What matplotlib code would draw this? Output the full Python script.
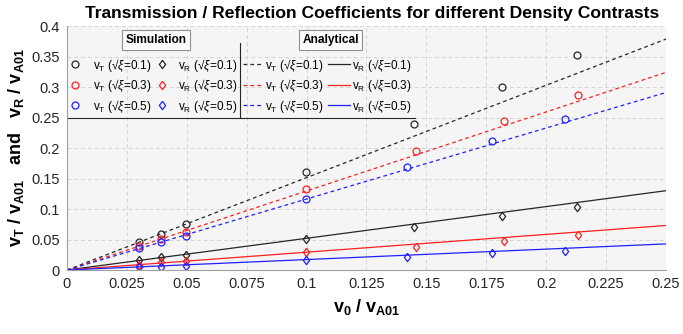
import numpy as np
import matplotlib
matplotlib.use('Agg')
import matplotlib.pyplot as plt
from matplotlib.lines import Line2D
from matplotlib.legend import Legend
from matplotlib.ticker import FuncFormatter, MultipleLocator

plt.rcParams['font.family'] = ['Liberation Sans', 'DejaVu Sans']
plt.rcParams['mathtext.fontset'] = 'custom'
plt.rcParams['mathtext.rm'] = 'Liberation Sans'
plt.rcParams['mathtext.it'] = 'Liberation Sans:italic'
plt.rcParams['mathtext.bf'] = 'Liberation Sans:bold'

# ---- data ----
xi_labels = ['0.1', '0.3', '0.5']
colors = ['#262626', '#ff2020', '#2020ff']

# simulation: v0/vA01 and measured vT, vR
x_sim = [
    [0.030, 0.0394, 0.0495, 0.0998, 0.145, 0.1815, 0.2130],
    [0.030, 0.0394, 0.0495, 0.0998, 0.1455, 0.1825, 0.2134],
    [0.030, 0.0394, 0.0495, 0.0998, 0.1421, 0.1773, 0.2080],
]
vT_sim = [
    [0.0456, 0.059, 0.075, 0.161, 0.2387, 0.2996, 0.3530],
    [0.0390, 0.051, 0.063, 0.133, 0.1948, 0.2440, 0.2864],
    [0.0360, 0.0456, 0.0565, 0.117, 0.1695, 0.2123, 0.2480],
]
vR_sim = [
    [0.016, 0.021, 0.0247, 0.0505, 0.0713, 0.0878, 0.1030],
    [0.0077, 0.0126, 0.0148, 0.029, 0.0384, 0.0477, 0.0570],
    [0.0044, 0.0055, 0.0066, 0.0165, 0.0219, 0.0274, 0.0318],
]

# analytical: straight lines through origin
x_ana = [0.0, 0.25]
vT_ana = [[0.0, 0.3786], [0.0, 0.3240], [0.0, 0.2910]]
vR_ana = [[0.0, 0.1300], [0.0, 0.0730], [0.0, 0.0428]]

diamond = [(0, 1), (0.75, 0), (0, -1), (-0.75, 0), (0, 1)]

fig = plt.figure(figsize=(6.83, 3.34), dpi=100)
ax = fig.add_axes([0.098, 0.1916, 0.877, 0.7304])
ax.set_facecolor('#f5f5f5')

h_circ, h_diam, h_dash, h_solid = [], [], [], []
for i in range(3):
    c = colors[i]
    l1, = ax.plot(x_ana, vT_ana[i], '--', color=c, lw=0.9, dashes=(3, 2.5))
    l2, = ax.plot(x_ana, vR_ana[i], '-', color=c, lw=0.9)
    m1, = ax.plot(x_sim[i], vT_sim[i], 'o', mfc='none', mec=c, ms=5, mew=0.9, ls='none')
    m2, = ax.plot(x_sim[i], vR_sim[i], marker=diamond, mfc='none', mec=c, ms=6, mew=0.9, ls='none')
    h_circ.append(m1); h_diam.append(m2); h_dash.append(l1); h_solid.append(l2)

ax.set_xlim(0, 0.25)
ax.set_ylim(0, 0.4)
ax.xaxis.set_major_locator(MultipleLocator(0.025))
ax.yaxis.set_major_locator(MultipleLocator(0.05))
fmt = FuncFormatter(lambda v, p: '%g' % round(v, 4))
ax.xaxis.set_major_formatter(fmt)
ax.yaxis.set_major_formatter(fmt)
ax.grid(True, ls=(0, (4, 3)), color='#d4d4d4', lw=0.7)
ax.set_axisbelow(True)
for s in ['top', 'right']:
    ax.spines[s].set_visible(False)
for s in ['left', 'bottom']:
    ax.spines[s].set_color('#a0a0a0')
ax.tick_params(labelsize=10.5, colors='#262626', length=0, pad=5)

lab = lambda comp, xi: r'v$_{\mathrm{%s}}$ (√$\xi$=%s)' % (comp, xi)
vT_labels = [lab('T', x) for x in xi_labels]
vR_labels = [lab('R', x) for x in xi_labels]

# one legend per column: (handles, labels, x anchor, handlelength, textpad)
columns = [
    (h_circ, vT_labels, 0.0033, 1.0, 1.03),
    (h_diam, vR_labels, 0.1486, 1.0, 0.86),
    (h_dash, vT_labels, 0.2938, 1.6, 0.25),
    (h_solid, vR_labels, 0.4357, 1.86, 0.17),
]
for hs, ls_, xa, hl, tp in columns:
    leg = Legend(ax, hs, ls_, loc='upper left', bbox_to_anchor=(xa, 0.875),
                 frameon=False, fontsize=8.5, borderpad=0, borderaxespad=0,
                 handlelength=hl, handletextpad=tp, labelspacing=0.3)
    ax.add_artist(leg)

# legend frame pieces and headers
ax.add_line(Line2D([0, 0.581], [0.623, 0.623], transform=ax.transAxes,
                   color='#262626', lw=0.8, clip_on=False))
ax.add_line(Line2D([0.289, 0.289], [0.623, 0.93], transform=ax.transAxes,
                   color='#262626', lw=0.8, clip_on=False))
box = dict(boxstyle='square,pad=0.3', fc='#fafafa', ec='#909090', lw=0.8)
ax.text(0.149, 0.943, 'Simulation', transform=ax.transAxes, ha='center',
        va='center', fontsize=8.6, fontweight='bold', bbox=box)
ax.text(0.44, 0.943, 'Analytical', transform=ax.transAxes, ha='center',
        va='center', fontsize=8.6, fontweight='bold', bbox=box)

ax.set_title('Transmission / Reflection Coefficients for different Density Contrasts',
             fontsize=12.6, fontweight='bold', pad=6, x=0.51)
ax.set_xlabel(r'$\mathbf{v_0}$ / $\mathbf{v_{A01}}$', fontsize=13, fontweight='bold', labelpad=4)
ax.set_ylabel(r'$\mathbf{v_T}$ / $\mathbf{v_{A01}}$   and   $\mathbf{v_R}$ / $\mathbf{v_{A01}}$',
              fontsize=13, fontweight='bold', labelpad=4)

fig.savefig('out.png', dpi=100)
